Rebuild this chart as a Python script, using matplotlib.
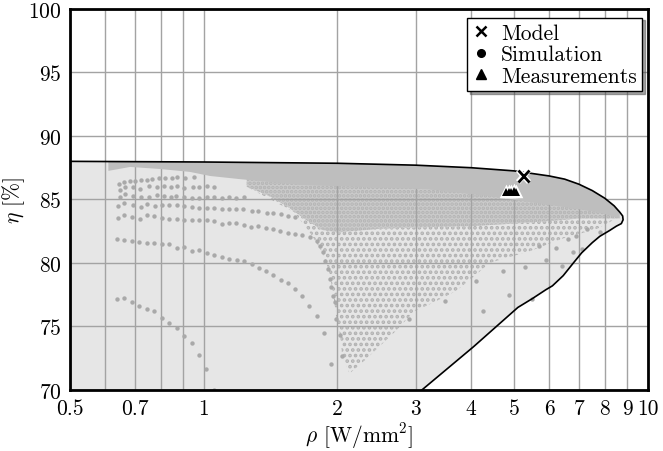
import numpy as np
import matplotlib.pyplot as plt
import matplotlib.patheffects as pe
from matplotlib.lines import Line2D

plt.rcParams['font.family'] = 'cmr10'
plt.rcParams['mathtext.fontset'] = 'cm'
plt.rcParams['axes.formatter.use_mathtext'] = True
plt.rcParams['hatch.linewidth'] = 1.8

# Pareto front (boundary of the feasible region)
front_rho = [0.5, 1.0, 2.0, 3.0, 4.0, 5.0, 6.0, 6.5, 7.0, 7.5, 8.0, 8.4, 8.65, 8.78, 8.8,
             8.72, 8.5, 8.2, 7.8, 7.5, 7.1, 6.8, 6.45, 6.1, 5.9, 5.5, 5.1, 4.05, 3.1]
front_eta = [88.0, 87.95, 87.85, 87.7, 87.5, 87.25, 86.85, 86.6, 86.2, 85.7, 85.1, 84.5, 84.0, 83.7, 83.4,
             83.1, 82.9, 82.55, 82.1, 81.6, 80.8, 80.0, 79.0, 78.2, 77.9, 77.2, 76.5, 73.4, 70.0]

# dense part of the simulation cloud (lower edge, drawn up to the front)
dense_rho = [0.61, 0.683, 0.797, 0.931, 1.033, 1.207, 1.41, 1.647, 2.2, 3.2, 4.3, 5.4, 6.5, 7.7, 8.3, 8.65]
dense_eta = [87.25, 87.56, 87.4, 87.17, 86.85, 86.6, 86.38, 86.14, 86.0, 85.8, 85.3, 84.8, 84.4, 84.0, 83.7, 83.5]

# striped part below it
mid_rho = [1.25, 1.4, 1.55, 1.7, 1.85, 2.0, 2.5, 3.0, 4.0, 5.0, 6.0, 7.0, 8.0, 8.6]
mid_eta = [86.0, 85.3, 84.4, 83.4, 82.6, 82.4, 82.7, 82.8, 82.9, 83.1, 83.3, 83.5, 83.5, 83.5]

# sparse fan of simulation points (lower edge)
fan_rho = [1.6, 1.75, 1.86, 1.92, 1.96, 1.99, 2.03, 2.05, 2.13, 2.3, 2.7, 2.98, 3.3, 3.7, 4.05, 4.4, 4.8,
           5.4, 6.4, 7.7, 8.5]
fan_eta = [84.0, 82.2, 80.7, 79.2, 77.4, 75.6, 74.3, 72.7, 71.3, 72.3, 74.6, 76.2, 76.9, 77.8, 78.9, 80.0, 80.4,
           80.9, 81.9, 82.7, 83.5]

# visible single rows of simulation points
row1_rho = [0.637, 0.662, 0.688, 0.716, 0.744, 0.773, 0.804, 0.837, 0.870, 0.905, 0.940, 0.976, 1.014, 1.053]
row1_eta = [77.19, 77.24, 76.93, 76.64, 76.40, 76.20, 75.69, 75.28, 74.88, 74.28, 73.72, 72.73, 71.65, 70.02]

row2_rho = [0.637, 0.662, 0.688, 0.716, 0.744, 0.774, 0.806, 0.837, 0.871, 0.904, 0.940, 0.976, 1.015,
            1.056, 1.098, 1.142, 1.187, 1.235, 1.283, 1.330, 1.382, 1.435, 1.491, 1.548, 1.606, 1.665,
            1.730, 1.797, 1.866, 1.931]
row2_eta = [81.89, 81.79, 81.71, 81.63, 81.57, 81.55, 81.52, 81.52, 81.20, 81.24, 80.97, 81.02, 80.81,
            80.63, 80.47, 80.31, 80.24, 80.13, 79.90, 79.61, 79.35, 79.03, 78.69, 78.40, 77.98, 77.43,
            76.61, 75.80, 74.49, 72.05]

row3_rho = [0.642, 0.663, 0.691, 0.719, 0.746, 0.773, 0.806, 0.837, 0.871, 0.905, 0.942, 0.978, 1.016,
            1.055, 1.098, 1.141, 1.184, 1.231, 1.279, 1.328, 1.380, 1.433, 1.488, 1.546, 1.606, 1.668,
            1.733, 1.797, 1.827, 1.86, 1.875, 1.91, 1.924, 1.94, 1.96, 1.975, 1.99, 2.03, 2.05]
row3_eta = [83.52, 83.76, 83.65, 83.49, 83.76, 83.68, 83.57, 83.46, 83.44, 83.41, 83.36, 83.36, 83.39,
            83.33, 83.07, 83.15, 83.15, 82.99, 82.81, 82.89, 82.76, 82.65, 82.50, 82.39, 82.26, 82.20,
            82.02, 81.71, 81.36, 80.84, 80.18, 79.53, 78.74, 78.09, 77.43, 76.9, 75.6, 74.3, 72.7]

row4_rho = [0.642, 0.663, 0.694, 0.721, 0.746, 0.776, 0.806, 0.837, 0.871, 0.905, 0.942, 0.978, 1.016,
            1.056, 1.098, 1.141, 1.184, 1.226, 1.283, 1.328, 1.386, 1.435, 1.491, 1.552, 1.606]
row4_eta = [84.51, 84.72, 84.57, 84.43, 84.65, 84.49, 84.54, 84.59, 84.54, 84.51, 84.43, 84.35, 84.33,
            84.31, 84.28, 84.28, 84.28, 84.25, 84.07, 84.07, 83.96, 83.91, 83.83, 83.72, 83.60]

row5_rho = [0.648, 0.666, 0.694, 0.721, 0.755, 0.786, 0.815, 0.842, 0.867, 0.905, 0.942, 0.978, 1.016,
            1.056, 1.098, 1.141, 1.184, 1.231]
row5_eta = [85.17, 85.43, 85.30, 85.22, 85.22, 85.38, 85.25, 85.17, 85.30, 85.22, 85.14, 85.12, 85.17,
            85.22, 85.14, 85.17, 85.14, 85.17]

row6_rho = [0.648, 0.666, 0.694, 0.719, 0.755, 0.786, 0.815, 0.846, 0.872, 0.905, 0.946, 0.978, 1.016, 1.056]
row6_eta = [85.75, 85.96, 86.01, 85.85, 86.09, 85.96, 86.09, 85.96, 86.06, 85.88, 85.96, 85.96, 86.04, 85.96]

row7_rho = [0.645, 0.663, 0.684, 0.702, 0.721, 0.744, 0.765, 0.793, 0.817, 0.850, 0.872, 0.908, 0.953]
row7_eta = [86.22, 86.40, 86.48, 86.48, 86.54, 86.56, 86.64, 86.67, 86.69, 86.69, 86.75, 86.69, 86.75]

# scattered simulation points near the lower front
stray_rho = [5.7, 6.22, 5.9, 5.3, 4.73, 4.86, 6.9, 6.6, 7.1, 6.8, 4.25, 4.1, 3.5, 2.9, 5.5, 6.4, 7.3, 7.8]
stray_eta = [81.3, 81.2, 80.2, 79.7, 79.4, 77.5, 82.1, 81.9, 81.1, 80.85, 76.2, 78.6, 77.0, 75.6, 77.2, 79.8, 82.7, 82.4]

model_rho = [5.24]
model_eta = [86.85]

meas_rho = [4.8, 4.86, 4.93, 5.0, 5.04]
meas_eta = [85.55, 85.62, 85.6, 85.65, 85.58]


def upper_front(x):
    # top edge of the front, used to close the grey bands
    n = 13
    return np.interp(np.log(x), np.log(front_rho[:n]), front_eta[:n])


fig, ax = plt.subplots(figsize=(6.63, 4.52), dpi=100)
fig.subplots_adjust(left=0.1056, right=0.977, top=0.978, bottom=0.135)

ax.set_xscale('log')
ax.set_xlim(0.5, 10)
ax.set_ylim(70, 100)

# feasible region
ax.fill(front_rho + [0.5], front_eta + [70.0], color='#e6e6e6', lw=0, zorder=1)

# sparse fan (dotted texture)
ax.fill(list(fan_rho) + mid_rho[::-1], list(fan_eta) + mid_eta[::-1], facecolor='none',
        edgecolor='#b2b2b2', hatch='...', lw=0, zorder=2)

# striped band
mx = np.geomspace(mid_rho[0], mid_rho[-1], 60)
ax.fill(list(mid_rho) + list(mx[::-1]), list(mid_eta) + list(upper_front(mx[::-1])),
        facecolor='#cbcbcb', edgecolor='#b4b4b4', hatch='....', lw=0, zorder=2)

# dense band
dx = np.geomspace(dense_rho[0], dense_rho[-1], 60)
ax.fill(list(dense_rho) + list(dx[::-1]), list(dense_eta) + list(upper_front(dx[::-1])),
        color='#bebebe', lw=0, zorder=3)

ax.grid(True, which='both', color='#a3a3a3', lw=1.0, zorder=3.5)
ax.set_axisbelow(False)

dot = dict(s=10, color='#a9a9a9', lw=0, zorder=4)
for rx, ry in [(row1_rho, row1_eta), (row2_rho, row2_eta), (row3_rho, row3_eta),
               (row4_rho, row4_eta), (row5_rho, row5_eta), (row6_rho, row6_eta),
               (row7_rho, row7_eta), (stray_rho, stray_eta)]:
    ax.scatter(rx, ry, **dot)

ax.plot(front_rho, front_eta, color='black', lw=1.2, zorder=5)

# measurements: white halo behind, black triangles on top
ax.plot(meas_rho, meas_eta, ls='none', marker='^', ms=6, color='white', mec='white', mew=2.5, zorder=6)
ax.plot(meas_rho, meas_eta, ls='none', marker='^', ms=6, color='black', mew=0, zorder=6.5)
halo = [pe.withStroke(linewidth=4, foreground='white')]
ax.plot(model_rho, model_eta, ls='none', marker='x', ms=8, mew=2, color='black',
        path_effects=halo, zorder=7)

xt = [0.5, 0.7, 1, 2, 3, 4, 5, 6, 7, 8, 9, 10]
ax.set_xticks(xt)
ax.set_xticklabels(['0.5', '0.7', '1', '2', '3', '4', '5', '6', '7', '8', '9', '10'])
ax.set_xticks([0.6, 0.8, 0.9], minor=True)
ax.xaxis.set_minor_formatter(plt.NullFormatter())
ax.set_yticks([70, 75, 80, 85, 90, 95, 100])
ax.tick_params(which='both', length=0, labelsize=15.5, pad=6)

for s in ax.spines.values():
    s.set_linewidth(2.0)
    s.set_zorder(8)

ax.set_xlabel(r'$\rho$ [W/mm$^2$]', fontsize=15.5)
ax.set_ylabel(r'$\eta$ [%]', fontsize=15.5)
ax.xaxis.set_label_coords(0.5, -0.08)
ax.yaxis.set_label_coords(-0.075, 0.5)

handles = [Line2D([], [], ls='none', marker='x', ms=7, mew=1.8, color='black'),
           Line2D([], [], ls='none', marker='o', ms=5.5, color='black'),
           Line2D([], [], ls='none', marker='^', ms=6.5, color='black')]
leg = ax.legend(handles, ['Model', 'Simulation', 'Measurements'], loc='upper right',
                bbox_to_anchor=(0.99, 0.977), borderaxespad=0, fontsize=15.5, fancybox=False,
                shadow=True, framealpha=1, edgecolor='black', handlelength=0.8,
                handletextpad=0.5, labelspacing=0.1, borderpad=0.25)
leg.get_frame().set_linewidth(1.0)
leg.set_zorder(10)

fig.savefig('out.png', dpi=100)
